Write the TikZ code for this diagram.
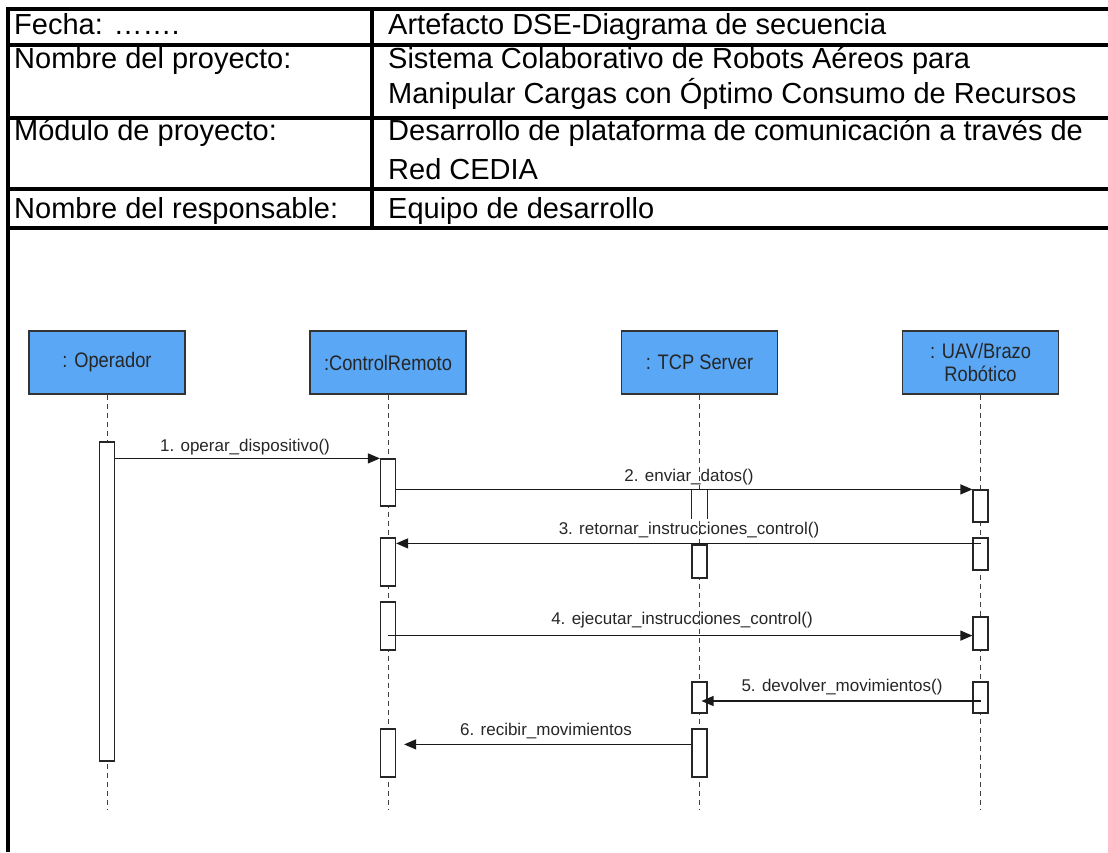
\documentclass[tikz,border=0pt]{standalone}
\usepackage{graphicx}
\usepackage{fontspec}
\setmainfont{Liberation Sans}
\usetikzlibrary{arrows.meta}
\definecolor{objblue}{RGB}{89,167,245}
\newcommand\narrowtxt[1]{\scalebox{0.87}[1]{#1}}
\begin{document}
\begin{tikzpicture}[x=1pt,y=-1pt,
  rule/.style={line width=3.4pt,black},
  celltext/.style={anchor=base west,inner sep=0pt,font=\fontsize{29}{35}\selectfont},
  obj/.style={draw=black!80,fill=objblue,line width=1.3pt,minimum width=156pt,minimum height=63pt,
    inner sep=0pt,align=center,font=\fontsize{21}{23}\selectfont,text=black!85},
  act/.style={draw=black!85,fill=white,line width=1.2pt,minimum width=15pt,inner sep=0pt},
  life/.style={black!75,line width=1pt,dash pattern=on 5pt off 4pt},
  msg/.style={black!90,line width=1.2pt,-{Triangle[length=12pt,width=10pt]}},
  lbl/.style={inner sep=1pt,font=\fontsize{17}{19}\selectfont,text=black!85},
]
\useasboundingbox (0,0) rectangle (1108,852);

% ---- header table ----
\draw[rule] (8,9) -- (1108,9);
\draw[rule] (8,45) -- (1108,45);
\draw[rule] (8,118) -- (1108,118);
\draw[rule] (8,189) -- (1108,189);
\draw[rule] (8,228) -- (1108,228);
\draw[rule] (8,7.3) -- (8,852);
\draw[rule] (372,7.3) -- (372,229.7);

\node[celltext] (fechaL) at (14,34) {Fecha: …….};
\node[celltext] (fechaR) at (388,34) {Artefacto DSE-Diagrama de secuencia};
\node[celltext] (proyL) at (14,68) {Nombre del proyecto:};
\node[celltext] (proyR1) at (388,68) {Sistema Colaborativo de Robots Aéreos para};
\node[celltext] (proyR2) at (388,103) {Manipular Cargas con Óptimo Consumo de Recursos};
\node[celltext] (modL) at (14,140) {Módulo de proyecto:};
\node[celltext] (modR1) at (388,140) {Desarrollo de plataforma de comunicación a través de};
\node[celltext] (modR2) at (388,179) {Red CEDIA};
\node[celltext] (respL) at (14,218) {Nombre del responsable:};
\node[celltext] (respR) at (388,218) {Equipo de desarrollo};

% ---- participants ----
\node[obj] (op)  at (107,362.5)   {\narrowtxt{: Operador}};
\node[obj] (cr)  at (388,362.5)   {\narrowtxt{:ControlRemoto}};
\node[obj] (tcp) at (699.5,362.5) {\narrowtxt{: TCP Server}};
\node[obj] (uav) at (980.5,362.5) {\narrowtxt{: UAV/Brazo}\\\narrowtxt{Robótico}};

\coordinate (opEnd)  at (107,810);
\coordinate (crEnd)  at (388,810);
\coordinate (tcpEnd) at (699.5,810);
\coordinate (uavEnd) at (980.5,810);

\draw[life] (op.south)  -- (opEnd);
\draw[life] (cr.south)  -- (crEnd);
\draw[life] (tcp.south) -- (tcpEnd);
\draw[life] (uav.south) -- (uavEnd);

% ---- activation bars ----
\node[act,minimum height=319pt] (op1) at (107,601.5) {};
\node[act,minimum height=47pt] (cr1) at (388,482.5) {};
\node[act,minimum height=48pt] (cr2) at (388,562) {};
\node[act,minimum height=48pt] (cr3) at (388,626) {};
\node[act,minimum height=48pt] (cr4) at (388,753) {};
\node[act,draw=none,minimum height=28pt] (tcp1) at (699.5,504) {};
\draw[black!85,line width=1.2pt] (tcp1.south west) -- (tcp1.north west) -- (tcp1.north east) -- (tcp1.south east);
\node[act,minimum height=33pt] (tcp2) at (699.5,561.5) {};
\node[act,minimum height=31pt] (tcp3) at (699.5,697.5) {};
\node[act,minimum height=48pt] (tcp4) at (699.5,753) {};
\node[act,minimum height=32pt] (uav1) at (980.5,506) {};
\node[act,minimum height=32pt] (uav2) at (980.5,554) {};
\node[act,minimum height=33pt] (uav3) at (980.5,633.5) {};
\node[act,minimum height=31pt] (uav4) at (980.5,697.5) {};

% ---- messages ----
\draw[msg] (op1.east |- cr1.north) -- (cr1.north west);
\draw[msg] (cr1.east |- uav1.north) -- (uav1.north west);
\draw[msg] ([yshift=-6pt]uav2.north) -- ([yshift=-6pt]cr2.north east);
\draw[msg] ([yshift=15pt]cr3.south) -- ([yshift=15pt]uav3.south west);
\draw[msg] ([yshift=-3.5pt]uav4.center) -- ([yshift=-3.5pt,xshift=2pt]tcp3.center);
\draw[msg] ([yshift=-16pt]tcp4.north west) -- ([yshift=-16pt,xshift=8pt]cr4.north east);

\node[lbl] (l1) at (245,447) {1. operar\_dispositivo()};
\node[lbl] (l2) at (689,477) {2. enviar\_datos()};
\node[lbl] (l3) at (689,530) {3. retornar\_instrucciones\_control()};
\node[lbl] (l4) at (682,620) {4. ejecutar\_instrucciones\_control()};
\node[lbl] (l5) at (842,687) {5. devolver\_movimientos()};
\node[lbl] (l6) at (546,731) {6. recibir\_movimientos};
\end{tikzpicture}
\end{document}
